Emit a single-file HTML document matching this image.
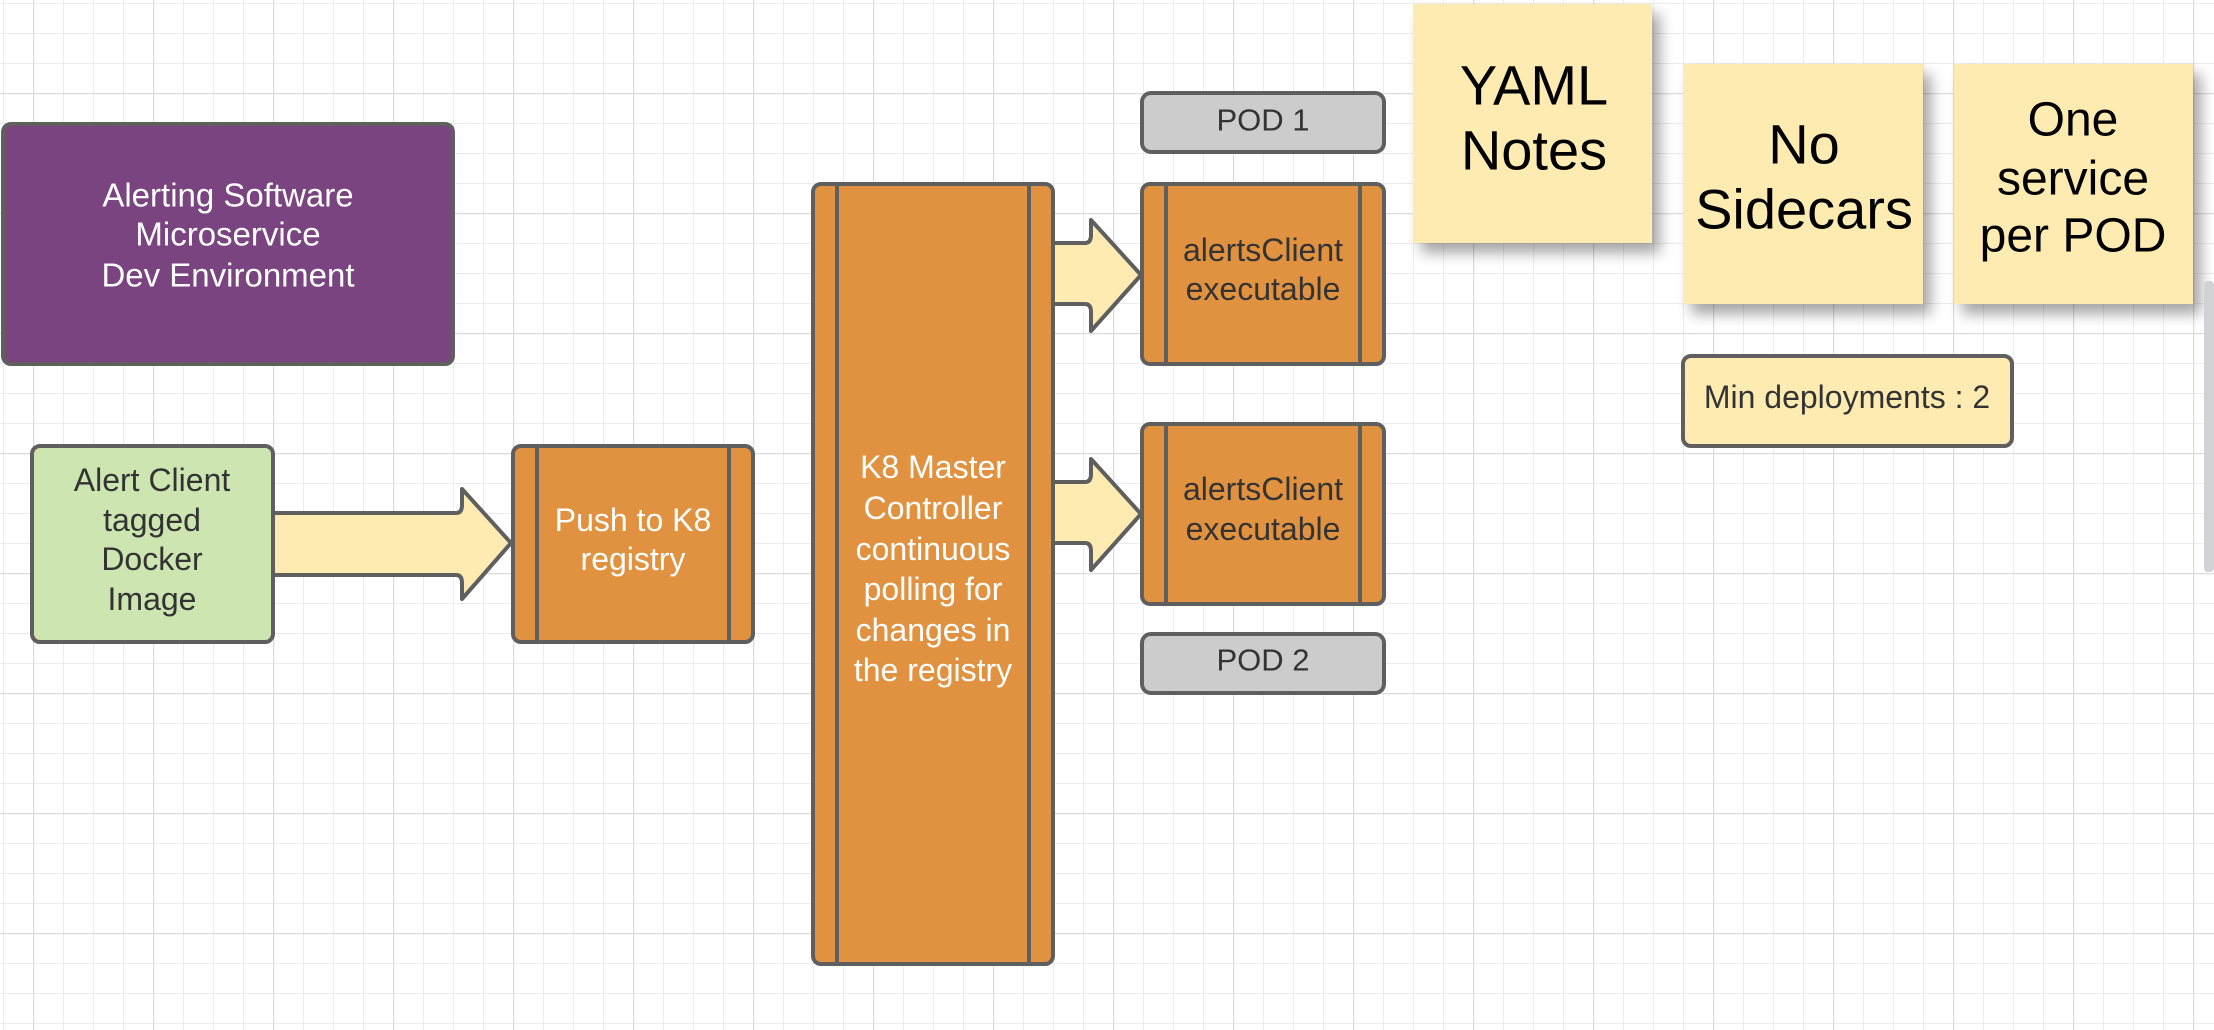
<!DOCTYPE html>
<html><head><meta charset="utf-8"><style>
html,body{margin:0;padding:0;background:#fff;}
svg{display:block;}
text{font-family:"Liberation Sans",sans-serif;text-anchor:middle;dominant-baseline:central;}
</style></head><body>
<svg width="2214" height="1030" viewBox="0 0 2214 1030" xmlns="http://www.w3.org/2000/svg">
<defs>
<pattern id="gmin" x="3" y="3" width="30" height="30" patternUnits="userSpaceOnUse">
<path d="M0.5 0V30M0 0.5H30" stroke="#ececec" stroke-width="1" fill="none"/>
</pattern>
<pattern id="gmaj" x="33" y="93" width="120" height="120" patternUnits="userSpaceOnUse">
<path d="M0.5 0V120M0 0.5H120" stroke="#dcdcdc" stroke-width="1.5" fill="none"/>
</pattern>
<filter id="sh" x="-20%" y="-20%" width="140%" height="150%">
<feGaussianBlur in="SourceAlpha" stdDeviation="7"/>
<feOffset dx="8" dy="10"/>
<feComponentTransfer><feFuncA type="linear" slope="0.35"/></feComponentTransfer>
<feMerge><feMergeNode/><feMergeNode in="SourceGraphic"/></feMerge>
</filter>
</defs>
<rect width="2214" height="1030" fill="#fff"/>
<rect width="2214" height="1030" fill="url(#gmin)"/>
<rect width="2214" height="1030" fill="url(#gmaj)"/>

<g stroke="#5f5f5f" stroke-width="4" stroke-linejoin="round">
<rect x="3" y="124" width="450" height="240" rx="8" fill="#7a4481"/>
<rect x="32" y="446" width="241" height="196" rx="8" fill="#cde5b1"/>
<path d="M273 513 H456 Q462 513 462 505 V489 L511 543 L462 599 V583 Q462 575 456 575 H273 Z" fill="#fdebb2"/>
<rect x="513" y="446" width="240" height="196" rx="8" fill="#e19240"/>
<path d="M537 446V642M729 446V642" fill="none"/>
<rect x="813" y="184" width="240" height="780" rx="8" fill="#e19240"/>
<path d="M837 184V964M1029 184V964" fill="none"/>
<path d="M1053 243 H1085 Q1091 243 1091 235 V220 L1141 275 L1091 331 V312 Q1091 304 1085 304 H1053 Z" fill="#fdebb2"/>
<path d="M1053 482 H1085 Q1091 482 1091 474 V459 L1141 514 L1091 570 V551 Q1091 543 1085 543 H1053 Z" fill="#fdebb2"/>
<rect x="1142" y="184" width="242" height="180" rx="8" fill="#e19240"/>
<path d="M1166 184V364M1360 184V364" fill="none"/>
<rect x="1142" y="424" width="242" height="180" rx="8" fill="#e19240"/>
<path d="M1166 424V604M1360 424V604" fill="none"/>
<rect x="1142" y="93" width="242" height="59" rx="9" fill="#cccccc"/>
<rect x="1142" y="634" width="242" height="59" rx="9" fill="#cccccc"/>
<rect x="1683" y="356" width="329" height="90" rx="8" fill="#fdebb2"/>
</g>

<rect x="1413" y="4" width="239" height="239" fill="#fdebb2" filter="url(#sh)"/>
<rect x="1683" y="64" width="240" height="240" fill="#fdebb2" filter="url(#sh)"/>
<rect x="1954" y="64" width="239" height="240" fill="#fdebb2" filter="url(#sh)"/>

<rect x="2204" y="281" width="10" height="291" rx="4" fill="#d0d2d6"/>

<g font-size="32" fill="#fff">
<text x="228" y="195" font-size="33">Alerting Software</text>
<text x="228" y="234" font-size="33">Microservice</text>
<text x="228" y="275" font-size="33">Dev Environment</text>
<text x="633" y="520">Push to K8</text>
<text x="633" y="559">registry</text>
<text x="933" y="467">K8 Master</text>
<text x="933" y="508">Controller</text>
<text x="933" y="549">continuous</text>
<text x="933" y="589">polling for</text>
<text x="933" y="630">changes in</text>
<text x="933" y="670">the registry</text>
</g>
<g font-size="32" fill="#333">
<text x="152" y="480">Alert Client</text>
<text x="152" y="520">tagged</text>
<text x="152" y="559">Docker</text>
<text x="152" y="599">Image</text>
<text x="1263" y="250">alertsClient</text>
<text x="1263" y="289">executable</text>
<text x="1263" y="489">alertsClient</text>
<text x="1263" y="529">executable</text>
<text x="1263" y="120" font-size="31">POD 1</text>
<text x="1263" y="660" font-size="31">POD 2</text>
<text x="1847" y="397" font-size="32">Min deployments : 2</text>
</g>
<g fill="#000">
<text x="1534" y="85" font-size="56">YAML</text>
<text x="1534" y="150" font-size="56">Notes</text>
<text x="1804" y="144" font-size="56">No</text>
<text x="1804" y="209" font-size="56">Sidecars</text>
<text x="2073" y="120" font-size="48">One</text>
<text x="2073" y="179" font-size="48">service</text>
<text x="2073" y="236" font-size="48">per POD</text>
</g>
</svg>
</body></html>
